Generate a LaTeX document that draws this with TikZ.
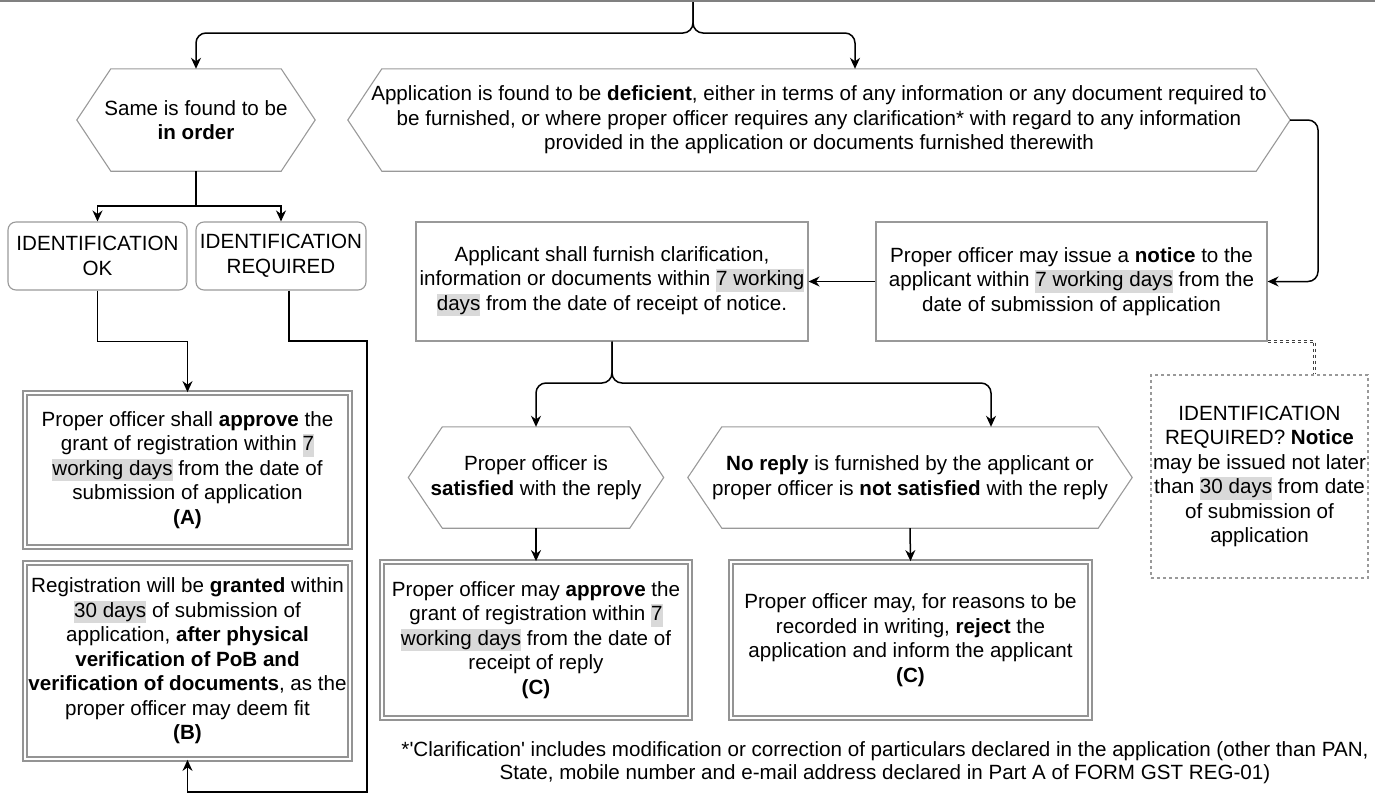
\documentclass[tikz,border=0pt]{standalone}
\usepackage{fontspec}
\setmainfont{Liberation Sans}
\usetikzlibrary{arrows.meta,shadows}

\definecolor{hlgray}{HTML}{D9D9D9}
\definecolor{edgegray}{HTML}{999999}
\newcommand{\hl}[1]{{\setlength{\fboxsep}{0pt}\colorbox{hlgray}{\vrule height 16.5pt depth 6pt width 0pt #1}}}

\begin{document}
\begin{tikzpicture}[x=1pt, y=-1pt,
  every node/.style={font=\fontsize{20.6}{24.5}\selectfont, align=center, inner sep=2pt},
  hexa/.style={inner sep=0pt, append after command={\pgfextra{
      \draw[edgegray, line width=1.1pt] (\tikzlastnode.west) -- ([xshift=34pt]\tikzlastnode.north west)
        -- ([xshift=-34pt]\tikzlastnode.north east) -- (\tikzlastnode.east)
        -- ([xshift=-34pt]\tikzlastnode.south east) -- ([xshift=34pt]\tikzlastnode.south west) -- cycle;}}},
  plainbox/.style={draw=edgegray, line width=1.1pt},
  idbox/.style={draw=edgegray, line width=1.1pt, rounded corners=8pt},
  dbox/.style={draw=black!42, double=white, double distance=2pt, line width=1.8pt, fill=white,
               drop shadow={shadow xshift=2.5pt, shadow yshift=-2.5pt, fill=black!22, opacity=1}},
  notebox/.style={draw=edgegray, dashed, line width=1.1pt},
  arr/.style={-{Stealth[length=11pt, width=10pt]}, line width=1.5pt}
]
  \useasboundingbox (0,0) rectangle (1375,795);
  \draw[line width=2.5pt, black!50] (0,1) -- (1375,1);
  \coordinate (top) at (693,2);

  % first split
  \node[hexa, minimum width=238, minimum height=102] (same) at (196,120)
    {Same is found to be\\\textbf{in order}};
  \node[hexa, minimum width=942, minimum height=102] (defic) at (819,120)
    {Application is found to be \textbf{deficient}, either in terms of any information or any document required to\\
     be furnished, or where proper officer requires any clarification* with regard to any information\\
     provided in the application or documents furnished therewith};

  \draw[arr, rounded corners=10pt] (top) -- (693,33) -| (same.north);
  \draw[arr, rounded corners=10pt] (top) -- (693,33) -| ([xshift=36pt]defic.north);

  % left branch
  \node[idbox, minimum width=179, minimum height=68] (idok) at (97.5,256) {IDENTIFICATION\\OK};
  \node[idbox, minimum width=170, minimum height=68] (idreq) at (281,256) {IDENTIFICATION\\REQUIRED};

  \node[dbox, minimum width=325, minimum height=154] (boxA) at (187.5,470)
    {Proper officer shall \textbf{approve} the\\grant of registration within \hl{7}\\
     \hl{working days} from the date of\\submission of application\\\textbf{(A)}};
  \node[dbox, minimum width=325, minimum height=196] (boxB) at (187.5,661)
    {Registration will be \textbf{granted} within\\\hl{30 days} of submission of\\
     application, \textbf{after physical}\\\textbf{verification of PoB and}\\
     \textbf{verification of documents}, as the\\proper officer may deem fit\\\textbf{(B)}};

  \draw[arr] (same.south) -- ++(0,35) -| (idok.north);
  \draw[arr] (same.south) -- ++(0,35) -| (idreq.north);
  \draw[arr] (idok.south) -- ++(0,51) -| (boxA.north);
  \draw[arr] ([xshift=8pt]idreq.south) |- (367,341) -- (367,792) -| (boxB.south);

  % right branch
  \node[plainbox, minimum width=391, minimum height=119] (notice) at (1071.5,281.5)
    {Proper officer may issue a \textbf{notice} to the\\applicant within \hl{7 working days} from the\\
     date of submission of application};
  \node[plainbox, minimum width=392, minimum height=119] (applic) at (612,281.5)
    {Applicant shall furnish clarification,\\information or documents within \hl{7 working}\\
     \hl{days} from the date of receipt of notice.};
  \node[notebox, minimum width=217, minimum height=203] (note) at (1259.5,476.5)
    {IDENTIFICATION\\REQUIRED? \textbf{Notice}\\may be issued not later\\
     than \hl{30 days} from date\\of submission of\\application};

  \draw[arr, rounded corners=10pt] (defic.east) -- (1318,120) |- (notice.east);
  \draw[arr] (notice.west) -- (applic.east);
  \draw[dashed, double, double distance=1.8pt, line width=0.9pt, draw=black!75]
    (notice.south east) -| ([xshift=55pt]note.north);

  \node[hexa, minimum width=255, minimum height=101] (sat) at (536,477.5)
    {Proper officer is\\\textbf{satisfied} with the reply};
  \node[hexa, minimum width=444, minimum height=101] (norep) at (910,477.5)
    {\textbf{No reply} is furnished by the applicant or\\proper officer is \textbf{not satisfied} with the reply};

  \draw[arr, rounded corners=10pt] (applic.south) -- (612,383) -| (sat.north);
  \draw[arr, rounded corners=10pt] (applic.south) -- (612,383) -| ([xshift=81pt]norep.north);

  \node[dbox, minimum width=308, minimum height=156] (boxC1) at (536,640)
    {Proper officer may \textbf{approve} the\\grant of registration within \hl{7}\\
     \hl{working days} from the date of\\receipt of reply\\\textbf{(C)}};
  \node[dbox, minimum width=359, minimum height=156] (boxC2) at (910.5,640)
    {Proper officer may, for reasons to be\\recorded in writing, \textbf{reject} the\\
     application and inform the applicant\\\textbf{(C)}};

  \draw[arr] (sat.south) -- (boxC1.north);
  \draw[arr] (norep.south) -- (boxC2.north);

  % footnote
  \node[font=\fontsize{20.6}{23}\selectfont] (foot) at (885,763)
    {*\textquotesingle Clarification\textquotesingle{} includes modification or correction of particulars declared in the application (other than PAN,\\
     State, mobile number and e-mail address declared in Part A of FORM GST REG-01)};
\end{tikzpicture}
\end{document}
